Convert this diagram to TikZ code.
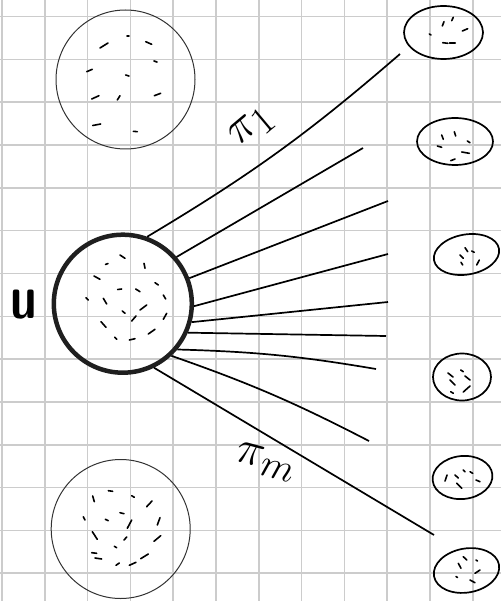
\documentclass[tikz,border=0pt]{standalone}
\usetikzlibrary{shapes.geometric}
\begin{document}
\begin{tikzpicture}[x=1pt, y=-1pt]
        \tikzstyle{grid_line} = [draw = black!20, line width=1.6pt]
        \tikzstyle{side_set} = [shape = circle, draw = black!80, line width=1pt, minimum size=139pt, inner sep=0pt]
        \tikzstyle{main_set} = [shape = circle, draw = black!88, line width=4.5pt, minimum size=138pt, inner sep=0pt]
        \tikzstyle{leaf_set} = [shape = ellipse, draw = black, line width=1.7pt, inner sep=0pt]
        \tikzstyle{fan_line} = [line width=1.7pt]
        \tikzstyle{dot_mark} = [line width=1.6pt, line cap=round]
        \tikzstyle{pi_label} = [font=\Huge, scale=1.9]

        \useasboundingbox (0,0) rectangle (501,601);

        % squared paper
        \foreach \i in {0,...,11} \draw[grid_line] (2+42.8*\i,0) -- (2+42.8*\i,601);
        \foreach \j in {0,...,13} \draw[grid_line] (0,16.7+42.8*\j) -- (501,16.7+42.8*\j);

        \node[side_set] at (125.5,  79.5) (top_set) {};

        \node[main_set] at (122.8, 303.7) (u_set) {};

        \node[side_set] at (120.7, 529.0) (bot_set) {};

        \node[font=\Huge\sffamily\bfseries, xscale=1.9, yscale=2.5] at (23.5, 304.5) (u_label) {u};

        \node[leaf_set, minimum width=79pt, minimum height=53pt] at (443.5,  32.5) (leaf_1) {};

        \node[leaf_set, minimum width=76pt, minimum height=47pt] at (455.0, 141.5) (leaf_2) {};

        \node[leaf_set, minimum width=66pt, minimum height=40pt, rotate=10] at (466.5, 254.5) (leaf_3) {};

        \node[leaf_set, minimum width=58pt, minimum height=47pt] at (462.0, 377.0) (leaf_4) {};

        \node[leaf_set, minimum width=60pt, minimum height=43pt, rotate=6] at (462.5, 477.5) (leaf_5) {};

        \node[leaf_set, minimum width=66pt, minimum height=44pt, rotate=10] at (466.5, 570.5) (leaf_6) {};

        \node[pi_label, rotate=40] at (252, 128) (pi_first) {$\pi_1$};

        \node[pi_label, rotate=-15] at (266, 462) (pi_last) {$\pi_{m}$};

        \coordinate (e1) at (400,  54);
        \coordinate (e2) at (363, 148);
        \coordinate (e3) at (388, 201);
        \coordinate (e4) at (388, 254);
        \coordinate (e5) at (388, 302);
        \coordinate (e6) at (386, 336);
        \coordinate (e7) at (376, 369);
        \coordinate (e8) at (369, 441);
        \coordinate (e9) at (434, 535);

        \draw[fan_line]
          (u_set.70) edge[bend right=5] (e1)
          (u_set.41) edge (e2)
          (u_set.21) edge (e3)
          (u_set.-2) edge (e4)
          (u_set.-15) edge (e5)
          (u_set.-24) edge (e6)
          (u_set.-40) edge[bend left=4] (e7)
          (u_set.-47) edge[bend left=4] (e8)
          (u_set.-64) edge (e9)
        ;

        % specks in the sets
        \draw[dot_mark]
          (127,36) -- (129,36)  (100,48) -- (108,43)  (145.7,41.7) -- (151.7,44.3)
          (154,61) -- (157,62)  (86.7,71.7) -- (92.3,69.3)  (125.7,75) -- (129,76)
          (91.7,99) -- (99,95.7)  (117.3,100) -- (120,95.7)  (154.3,95.7) -- (160.7,93.3)
          (92.7,125.5) -- (100.7,124)  (133.3,131.3) -- (137.3,131.7)
        ;
        \draw[dot_mark]
          (120,255) -- (125,258.3)  (105.5,264.5) -- (108,263.5)  (144,263.3) -- (145,268.3)
          (94,276) -- (100,279.3)  (117.7,289.5) -- (121.7,289)  (135.7,289) -- (140,291.7)
          (155,282.7) -- (158.3,285)  (86,297.7) -- (88.3,300)  (103.3,298.3) -- (106.7,304)
          (163.3,295) -- (165.7,299)  (122.3,311) -- (125,313.3)  (140,310) -- (146.7,305)
          (131.7,321) -- (136,316)  (163.3,319.3) -- (166.7,313.3)  (101,321.7) -- (106,327.3)
          (114.7,337.3) -- (116.7,339.3)  (129.3,340) -- (135,338.7)  (148.3,334) -- (155,329.3)
        ;
        \draw[dot_mark]
          (108.3,490.7) -- (112.7,491.3)  (92.7,496) -- (94.3,501.7)  (131.7,495.7) -- (134.3,497.3)
          (146.7,506.7) -- (152,501)  (83.3,516.7) -- (85,520)  (105.3,519.3) -- (108.3,520.7)
          (120,512.7) -- (124,513.7)  (127.3,528.3) -- (131.7,520)  (157.3,525) -- (160,517.7)
          (92.3,531.7) -- (97.3,539.3)  (124,540) -- (126.7,537)  (154,541.3) -- (160.7,535.7)
          (114.3,546.3) -- (116.7,547.7)  (91.7,552.7) -- (96.7,553.3)  (95,558) -- (101.7,559)
          (116,565.3) -- (119.3,563)  (129.3,565.3) -- (136,562.3)  (140.7,558.7) -- (148.3,554)
        ;
        \draw[dot_mark]
          (442.3,26) -- (444,21.7)  (451.7,20.7) -- (453.3,17.3)  (462.3,31) -- (467.7,28.7)
          (429.3,34) -- (431,35)  (442.7,42.7) -- (447.7,43.3)  (449.3,43) -- (455.3,43)
          (441.7,135) -- (443.3,139.3)  (454.3,131.7) -- (455.7,136)  (467.3,141) -- (470,142.7)
          (437.3,146) -- (441.7,147.3)  (461.7,152) -- (469.3,153.3)  (450.7,160.7) -- (455,159)
          (465,247.7) -- (467.7,251.7)  (471.7,251) -- (474.3,252.3)  (460,255) -- (463.3,258.3)
          (461,262.3) -- (462.7,265)  (476.7,265) -- (479.3,260)
          (448,373) -- (453,377)  (450,380) -- (455,385)  (460.7,370) -- (463.3,371.7)
          (465,376) -- (470,380)  (463.3,392) -- (470,386)  (450.7,391.7) -- (453.3,393.3)
          (447,475) -- (445,481)  (455,475) -- (458.3,478)  (463.3,470) -- (465,471.7)
          (470,471.7) -- (472.7,473.3)  (456.7,483.3) -- (461.7,488.3)  (476,480) -- (480,481.7)
          (463.3,556.7) -- (466.7,560)  (476,560) -- (477.5,561)  (458.3,563.3) -- (461,568.3)
          (456,576.5) -- (457.5,577.5)  (475,573.3) -- (480,570)  (470,580) -- (475,582.7)
        ;
      \end{tikzpicture}
\end{document}
